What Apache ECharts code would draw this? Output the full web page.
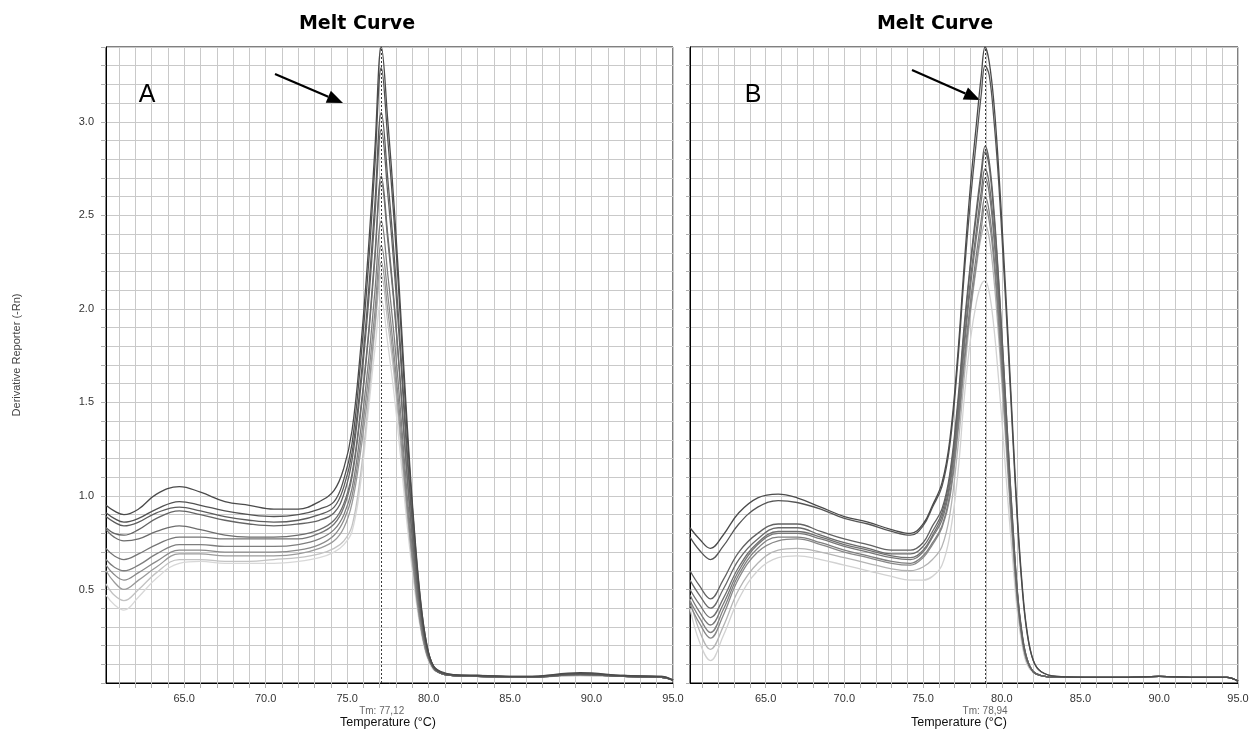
<!DOCTYPE html>
<html>
<head>
<meta charset="utf-8">
<title>Melt Curve</title>
<script src="https://cdn.jsdelivr.net/npm/echarts@6/dist/echarts.min.js"></script>
<style>
  html, body { margin: 0; padding: 0; background: #ffffff; }
  #chart { width: 1254px; height: 729px; }
</style>
</head>
<body>
<div id="chart"></div>
<script>
// ---- Axis ranges and tick labels ----
const T_MIN = 60.2;
const T_MAX = 95;
const Y_MIN = 0;
const Y_MAX = 3.4;
const X_TICKS = [61, 62, 63, 64, 65, 66, 67, 68, 69, 70, 71, 72, 73, 74, 75, 76, 77, 78,
                 79, 80, 81, 82, 83, 84, 85, 86, 87, 88, 89, 90, 91, 92, 93, 94, 95];
const X_LABELS = [65, 70, 75, 80, 85, 90, 95];
const Y_LABELS = [0.5, 1.0, 1.5, 2.0, 2.5, 3.0];

// Melting temperatures (dotted marker lines)
const TM_A = 77.12;
const TM_B = 78.94;

// ---- Panel A: temperature sampling and derivative traces ----
const TEMP_A = [60.2, 60.7, 61.3, 62.2, 63.3, 64.7, 66, 67.5, 69, 70.5, 72, 73.3, 74.2,
                74.8, 75.3, 75.8, 76.3, 76.7, 77.1,
                77.5, 77.9, 78.3, 78.7, 79.1, 79.5, 79.9, 80.3,
                80.8, 81.5, 83, 86, 89.3, 92, 94.3, 95];

const A1 = [0.95,0.92,0.90,0.93,1.01,1.05,1.02,0.97,0.95,0.93,0.93,0.97,1.03, 1.15,1.35,1.76,2.31,2.85,3.40, 3.00,2.53,1.96,1.36,0.85,0.45,0.20,0.09, 0.06,0.045,0.04,0.035,0.055,0.04,0.035,0.015];
const A2 = [0.91,0.88,0.86,0.88,0.93,0.97,0.95,0.92,0.90,0.89,0.90,0.93,0.97, 1.09,1.28,1.69,2.22,2.76,3.29, 2.90,2.45,1.90,1.31,0.83,0.44,0.20,0.09, 0.055,0.045,0.04,0.035,0.05,0.04,0.035,0.015];
const A3 = [0.89,0.86,0.84,0.86,0.91,0.94,0.92,0.89,0.87,0.86,0.87,0.90,0.94, 1.05,1.23,1.59,2.08,2.56,3.05, 2.69,2.27,1.76,1.22,0.77,0.41,0.19,0.09, 0.055,0.04,0.04,0.03,0.05,0.035,0.03,0.015];
const A4 = [0.83,0.80,0.79,0.82,0.88,0.92,0.90,0.87,0.85,0.84,0.85,0.87,0.91, 1.01,1.19,1.55,2.02,2.49,2.96, 2.61,2.20,1.71,1.18,0.75,0.40,0.18,0.08, 0.05,0.04,0.035,0.03,0.045,0.035,0.03,0.015];
const A5 = [0.82,0.78,0.76,0.77,0.81,0.84,0.82,0.79,0.78,0.78,0.79,0.82,0.87, 0.96,1.12,1.44,1.86,2.29,2.71, 2.39,2.02,1.57,1.09,0.69,0.37,0.17,0.08, 0.05,0.04,0.035,0.03,0.05,0.035,0.03,0.015];
const A6 = [0.72,0.68,0.66,0.69,0.74,0.78,0.78,0.77,0.77,0.77,0.77,0.80,0.85, 0.94,1.10,1.42,1.84,2.26,2.68, 2.36,2.00,1.55,1.08,0.68,0.37,0.17,0.08, 0.05,0.04,0.035,0.03,0.045,0.035,0.03,0.015];
const A7 = [0.66,0.62,0.60,0.63,0.69,0.74,0.74,0.73,0.73,0.73,0.74,0.77,0.82, 0.90,1.04,1.33,1.71,2.09,2.47, 2.18,1.84,1.43,0.99,0.63,0.34,0.16,0.08, 0.05,0.04,0.035,0.03,0.045,0.035,0.03,0.015];
const A8 = [0.63,0.58,0.55,0.59,0.65,0.71,0.71,0.70,0.70,0.70,0.71,0.74,0.79, 0.87,1.00,1.27,1.63,1.98,2.34, 2.07,1.74,1.36,0.94,0.60,0.32,0.15,0.08, 0.05,0.04,0.035,0.03,0.045,0.035,0.03,0.015];
const A9 = [0.60,0.54,0.50,0.55,0.62,0.69,0.69,0.68,0.68,0.68,0.69,0.72,0.76, 0.83,0.96,1.22,1.56,1.91,2.25, 1.99,1.68,1.30,0.91,0.58,0.31,0.15,0.08, 0.05,0.04,0.035,0.03,0.045,0.035,0.03,0.015];
const A10 = [0.53,0.47,0.44,0.50,0.59,0.66,0.66,0.65,0.65,0.66,0.67,0.69,0.72, 0.76,0.84,1.10,1.50,1.88,2.18, 1.92,1.63,1.26,0.88,0.56,0.31,0.15,0.08, 0.05,0.04,0.035,0.03,0.04,0.035,0.03,0.015];
const A11 = [0.47,0.42,0.39,0.46,0.56,0.64,0.65,0.64,0.64,0.64,0.65,0.67,0.70, 0.74,0.81,1.05,1.45,1.78,2.05, 1.81,1.53,1.19,0.83,0.53,0.29,0.14,0.07, 0.05,0.04,0.035,0.03,0.04,0.035,0.03,0.015];

const TRACES_A = [A1, A2, A3, A4, A5, A6, A7, A8, A9, A10, A11];
const SHADES_A = ['#4a4a4a', '#525252', '#5c5c5c', '#646464', '#6c6c6c', '#747474',
                  '#7e7e7e', '#8a8a8a', '#9a9a9a', '#c2c2c2', '#d8d8d8'];

// ---- Panel B: temperature sampling and derivative traces ----
const TEMP_B = [60.2, 60.8, 61.5, 62.3, 63.3, 64.5, 65.8, 67, 68.5, 70, 71.5, 73, 74.2,
                75.0, 75.6, 76.2, 76.7, 77.2, 77.6, 78.0, 78.4, 78.7, 78.94,
                79.2, 79.5, 79.8, 80.1, 80.4, 80.7, 81.0, 81.3, 81.6, 82.0, 82.5,
                83.5, 86, 88, 90, 92, 94.3, 95];

const B1 = [0.83,0.77,0.72,0.79,0.91,0.99,1.01,0.99,0.94,0.89,0.86,0.82,0.80, 0.85,0.95,1.07,1.30,1.75,2.22,2.65,3.00,3.25,3.40, 3.32,3.10,2.75,2.32,1.85,1.35,0.88,0.52,0.28,0.12,0.06, 0.035,0.03,0.03,0.035,0.03,0.03,0.01];
const B2 = [0.78,0.71,0.66,0.73,0.85,0.94,0.975,0.965,0.93,0.88,0.85,0.81,0.79, 0.84,0.94,1.05,1.27,1.71,2.17,2.57,2.91,3.15,3.30, 3.25,3.01,2.68,2.25,1.80,1.31,0.85,0.50,0.27,0.12,0.06, 0.035,0.03,0.03,0.035,0.03,0.03,0.01];
const B3 = [0.60,0.52,0.45,0.55,0.70,0.80,0.85,0.85,0.81,0.77,0.74,0.71,0.71, 0.75,0.84,0.93,1.12,1.50,1.90,2.24,2.54,2.74,2.87, 2.79,2.53,2.16,1.73,1.28,0.85,0.48,0.26,0.13,0.06,0.04, 0.03,0.03,0.03,0.035,0.03,0.03,0.01];
const B4 = [0.55,0.47,0.40,0.50,0.66,0.77,0.83,0.83,0.79,0.75,0.72,0.69,0.69, 0.73,0.81,0.91,1.10,1.47,1.87,2.22,2.51,2.71,2.84, 2.76,2.50,2.14,1.72,1.27,0.84,0.48,0.25,0.13,0.06,0.04, 0.03,0.03,0.03,0.035,0.03,0.03,0.01];
const B5 = [0.50,0.42,0.35,0.45,0.62,0.75,0.81,0.81,0.78,0.74,0.71,0.68,0.67, 0.71,0.79,0.89,1.07,1.43,1.81,2.15,2.43,2.63,2.75, 2.67,2.42,2.07,1.66,1.23,0.82,0.47,0.25,0.13,0.06,0.04, 0.03,0.03,0.03,0.035,0.03,0.03,0.01];
const B6 = [0.47,0.38,0.31,0.42,0.60,0.74,0.80,0.80,0.77,0.73,0.70,0.67,0.66, 0.70,0.78,0.87,1.05,1.40,1.78,2.11,2.39,2.58,2.70, 2.62,2.38,2.03,1.63,1.20,0.80,0.46,0.24,0.12,0.06,0.04, 0.03,0.03,0.03,0.035,0.03,0.03,0.01];
const B7 = [0.44,0.35,0.27,0.39,0.58,0.72,0.78,0.78,0.75,0.71,0.68,0.65,0.64, 0.68,0.75,0.84,1.01,1.36,1.72,2.03,2.30,2.48,2.60, 2.52,2.29,1.96,1.57,1.16,0.78,0.44,0.24,0.12,0.06,0.04, 0.03,0.03,0.03,0.035,0.03,0.03,0.01];
const B8 = [0.42,0.32,0.24,0.36,0.56,0.70,0.76,0.77,0.74,0.70,0.67,0.64,0.63, 0.67,0.74,0.83,0.99,1.33,1.69,1.99,2.25,2.43,2.55, 2.47,2.25,1.92,1.54,1.14,0.76,0.43,0.23,0.12,0.06,0.04, 0.03,0.03,0.03,0.035,0.03,0.03,0.01];
const B9 = [0.45,0.28,0.18,0.30,0.50,0.64,0.71,0.72,0.70,0.67,0.64,0.61,0.60, 0.62,0.66,0.73,0.90,1.25,1.62,1.97,2.23,2.39,2.45, 2.38,2.16,1.85,1.48,1.10,0.73,0.42,0.22,0.11,0.06,0.04, 0.03,0.03,0.03,0.035,0.03,0.03,0.01];
const B10 = [0.40,0.22,0.12,0.25,0.45,0.60,0.67,0.68,0.66,0.63,0.60,0.57,0.55, 0.55,0.57,0.63,0.79,1.11,1.51,1.83,2.04,2.13,2.15, 2.09,1.90,1.62,1.30,0.96,0.65,0.37,0.20,0.10,0.055,0.04, 0.03,0.03,0.03,0.035,0.03,0.03,0.01];

const TRACES_B = [B1, B2, B3, B4, B5, B6, B7, B8, B9, B10];
const SHADES_B = ['#4a4a4a', '#555555', '#626262', '#696969', '#707070', '#777777',
                  '#7f7f7f', '#888888', '#b4b4b4', '#d2d2d2'];

// ---- Chart ----
const FONT = '"Liberation Sans", Arial, sans-serif';
const GRID_LINE = '#c9c9c9';
const chart = echarts.init(document.getElementById('chart'), null, { renderer: 'canvas' });

function xAxisFor(gridIndex) {
  return {
    type: 'value', gridIndex: gridIndex, min: T_MIN, max: T_MAX,
    axisLine: { show: true, onZero: false, lineStyle: { color: '#000', width: 1 } },
    axisTick: { show: true, customValues: X_TICKS, length: 5, lineStyle: { color: '#b0b0b0' } },
    axisLabel: {
      customValues: X_LABELS, formatter: v => v.toFixed(1), margin: 10,
      color: '#333', fontSize: 11, fontFamily: FONT
    },
    splitLine: { show: true, lineStyle: { color: GRID_LINE, width: 1 } }
  };
}

function yAxisFor(gridIndex, withLabels) {
  return {
    type: 'value', gridIndex: gridIndex, min: Y_MIN, max: Y_MAX, interval: 0.1,
    axisLine: { show: true, onZero: false, lineStyle: { color: '#000', width: 1 } },
    axisTick: { show: true, length: withLabels ? 5 : 4, lineStyle: { color: '#b0b0b0' } },
    axisLabel: {
      show: withLabels, customValues: Y_LABELS, formatter: v => v.toFixed(1), margin: 12,
      color: '#333', fontSize: 11, fontFamily: FONT
    },
    splitLine: { show: true, lineStyle: { color: GRID_LINE, width: 1 } }
  };
}

function traceSeries(temps, traces, shades, axisIndex, tm) {
  const list = [];
  // lighter traces first so the darker ones sit on top
  for (let i = traces.length - 1; i >= 0; i--) {
    const s = {
      type: 'line', xAxisIndex: axisIndex, yAxisIndex: axisIndex,
      data: temps.map((t, k) => [t, traces[i][k]]),
      smooth: 0.4, showSymbol: false, symbol: 'none', silent: true,
      lineStyle: { color: shades[i], width: 1.3 }
    };
    if (i === 0) {
      s.markLine = {
        silent: true, symbol: 'none', animation: false,
        label: { show: false },
        lineStyle: { color: '#3a3a3a', width: 1, type: [2, 2] },
        data: [{ xAxis: tm }]
      };
    }
    list.push(s);
  }
  return list;
}

chart.setOption({
  animation: false,
  backgroundColor: '#ffffff',
  grid: [
    { left: 106, right: 581, top: 47, bottom: 46, show: true, borderColor: '#000', borderWidth: 1, backgroundColor: '#fff' },
    { left: 690, right: 16, top: 47, bottom: 46, show: true, borderColor: '#000', borderWidth: 1, backgroundColor: '#fff' }
  ],
  xAxis: [xAxisFor(0), xAxisFor(1)],
  yAxis: [yAxisFor(0, true), yAxisFor(1, false)],
  series: [].concat(
    traceSeries(TEMP_A, TRACES_A, SHADES_A, 0, TM_A),
    traceSeries(TEMP_B, TRACES_B, SHADES_B, 1, TM_B)
  )
});

// ---- Titles, annotations and axis names ----
const tmPxA = chart.convertToPixel({ xAxisIndex: 0 }, TM_A);
const tmPxB = chart.convertToPixel({ xAxisIndex: 1 }, TM_B);
const tmText = v => 'Tm: ' + v.toFixed(2).replace('.', ',');

function label(x, y, text, font, fill, extra) {
  return Object.assign({
    type: 'text', x: x, y: y, silent: true,
    style: { text: text, font: font, fill: fill, align: 'center', verticalAlign: 'middle' }
  }, extra || {});
}

function arrow(x1, y1, x2, y2) {
  const dx = x2 - x1, dy = y2 - y1, len = Math.hypot(dx, dy);
  const ux = dx / len, uy = dy / len;
  const headLen = 16, halfW = 6.5;
  const bx = x2 - ux * headLen, by = y2 - uy * headLen;
  return [
    { type: 'line', silent: true, shape: { x1: x1, y1: y1, x2: bx, y2: by },
      style: { stroke: '#000', lineWidth: 2.2 } },
    { type: 'polygon', silent: true,
      shape: { points: [[x2, y2], [bx - uy * halfW, by + ux * halfW], [bx + uy * halfW, by - ux * halfW]] },
      style: { fill: '#000' } }
  ];
}

chart.setOption({
  graphic: [].concat(
    [
      label(357, 24, 'Melt Curve', 'bold 19px "DejaVu Sans"', '#000'),
      label(935, 24, 'Melt Curve', 'bold 19px "DejaVu Sans"', '#000'),
      label(147, 95, 'A', '25px "Liberation Sans"', '#000'),
      label(753, 95, 'B', '25px "Liberation Sans"', '#000'),
      label(tmPxA, 711, tmText(TM_A), '10px "Liberation Sans"', '#666'),
      label(tmPxB, 711, tmText(TM_B), '10px "Liberation Sans"', '#666'),
      label(388, 723, 'Temperature (°C)', '12.5px "Liberation Sans"', '#111'),
      label(959, 723, 'Temperature (°C)', '12.5px "Liberation Sans"', '#111'),
      label(17, 355, 'Derivative Reporter (-Rn)', '11px "Liberation Sans"', '#444', { rotation: Math.PI / 2 })
    ],
    arrow(275, 74, 343, 103),
    arrow(912, 70, 980, 100)
  )
});
</script>
</body>
</html>
